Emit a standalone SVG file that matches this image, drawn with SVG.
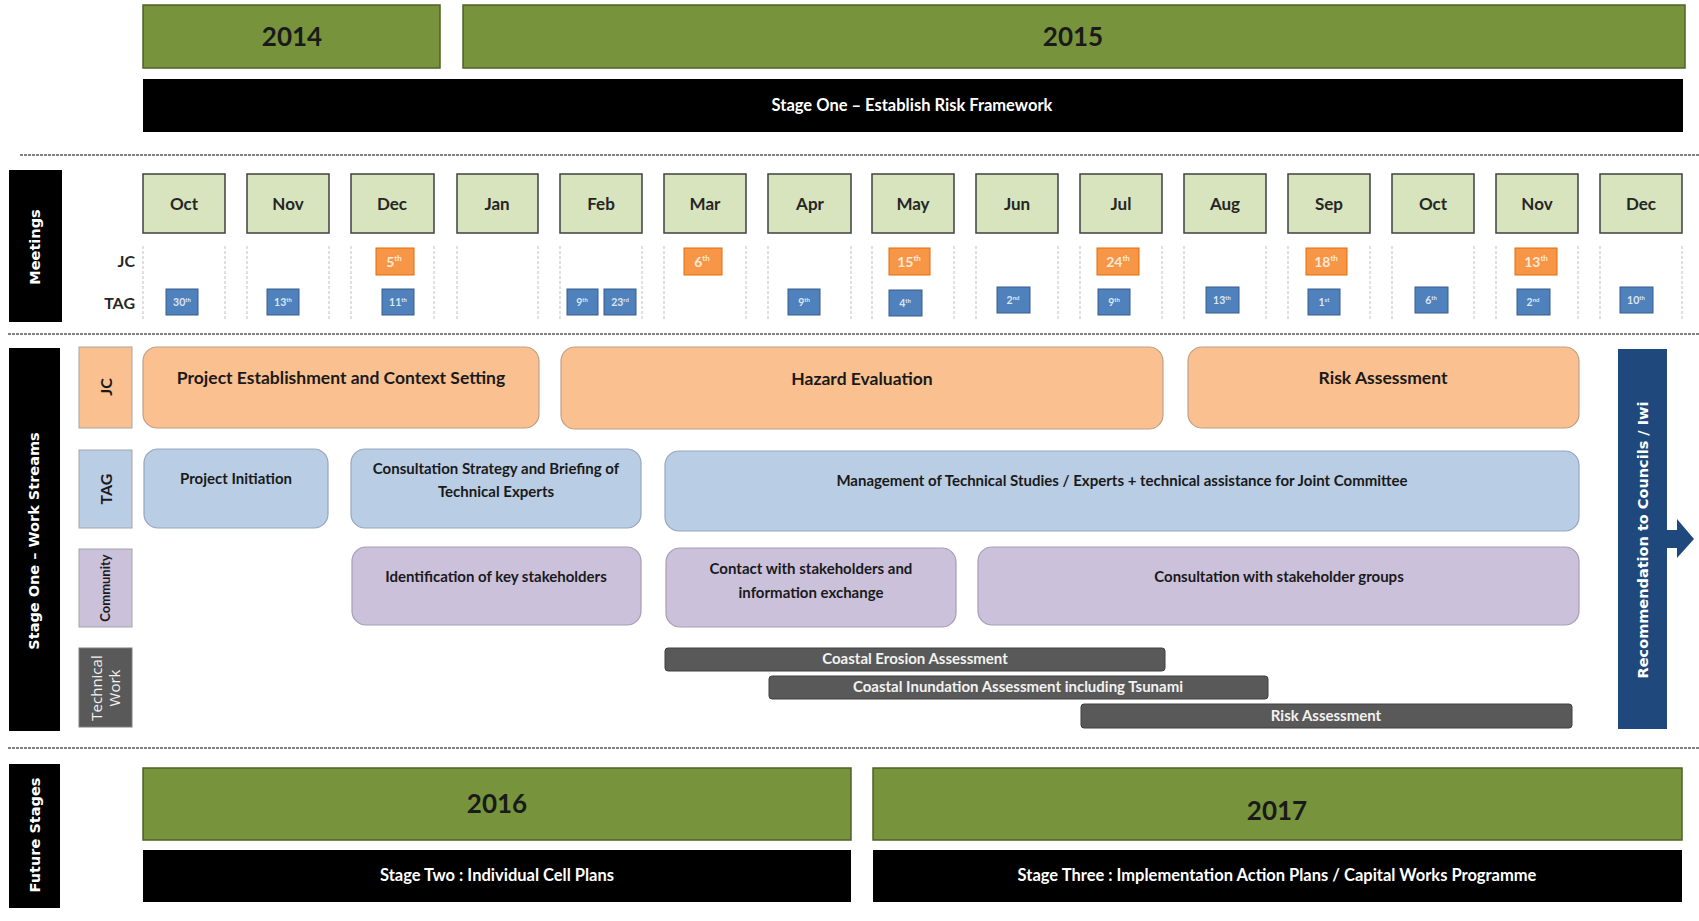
<svg xmlns="http://www.w3.org/2000/svg" width="1699" height="921" viewBox="0 0 1699 921">
<style>
  text { font-family: Lato, "Liberation Sans", sans-serif; font-weight: bold; }
  .year { fill: #77933C; stroke: #4F6228; stroke-width: 1.5; }
  .yeart { font-size: 26px; fill: #1a1a1a; text-anchor: middle; }
  .stage { fill: #000; }
  .staget { font-size: 16.5px; fill: #fff; text-anchor: middle; }
  .side { fill: #000; }
  .sidet { font-family: "DejaVu Sans", "Open Sans", sans-serif; font-size: 14.5px; fill: #fff; text-anchor: middle; dominant-baseline: central; }
  .month { fill: #D7E4BD; stroke: #404040; stroke-width: 1.5; }
  .montht { font-size: 17px; fill: #262626; text-anchor: middle; }
  .vdash { stroke: #BFBFBF; stroke-width: 1; stroke-dasharray: 3 2; }
  .hdash { stroke: #595959; stroke-width: 1.5; stroke-dasharray: 3 1; }
  .jcm { fill: #F79646; stroke: #E46C0A; stroke-width: 1; }
  .tagm { fill: #4F81BD; stroke: #385D8A; stroke-width: 1; }
  .mt { font-size: 14px; fill: #FDEADA; text-anchor: middle; }
  .tt { font-size: 10.5px; fill: #DCE6F2; text-anchor: middle; }
  .rowl { font-size: 16px; fill: #262626; text-anchor: end; }
  .lab-o { fill: #FAC090; stroke: #A6A6A6; stroke-width: 1; }
  .lab-b { fill: #B9CDE5; stroke: #A6A6A6; stroke-width: 1; }
  .lab-p { fill: #CCC1DA; stroke: #A6A6A6; stroke-width: 1; }
  .lab-g { fill: #595959; stroke: #7F7F7F; stroke-width: 1; }
  .labt { font-size: 16px; fill: #1a1a1a; text-anchor: middle; dominant-baseline: central; }
  .o { fill: #FAC090; stroke: #BFA088; stroke-width: 1.2; }
  .b { fill: #B9CDE5; stroke: #95A7BD; stroke-width: 1.2; }
  .p { fill: #CCC1DA; stroke: #A79DB5; stroke-width: 1.2; }
  .g { fill: #595959; stroke: #404040; stroke-width: 1; }
  .wt { fill: #1a1a1a; text-anchor: middle; }
  .gt { font-size: 15px; fill: #F2F2F2; text-anchor: middle; }
  .rec { fill: #1F497D; }
</style>

<!-- separators -->
<g id="separators">
  <line class="hdash" x1="20" y1="155" x2="1699" y2="155"/>
  <line class="hdash" x1="8" y1="334" x2="1699" y2="334"/>
  <line class="hdash" x1="8" y1="748" x2="1699" y2="748"/>
</g>

<!-- Top: years and stage one -->
<g id="year-2014"><rect class="year" x="143" y="5" width="297" height="63"/><text class="yeart" x="292" y="46">2014</text></g>
<g id="year-2015"><rect class="year" x="463" y="5" width="1222" height="63"/><text class="yeart" x="1073" y="46">2015</text></g>
<g id="stage-one"><rect class="stage" x="143" y="79" width="1540" height="53"/><text class="staget" x="912" y="111">Stage One – Establish Risk Framework</text></g>

<!-- Meetings -->
<g id="meetings-label"><rect class="side" x="9" y="170" width="53" height="152"/><text class="sidet" transform="translate(35,247) rotate(-90)">Meetings</text></g>

<g id="meeting-dashes">
  <line class="vdash" x1="143" y1="246" x2="143" y2="320"/><line class="vdash" x1="225" y1="246" x2="225" y2="320"/>
  <line class="vdash" x1="247" y1="246" x2="247" y2="320"/><line class="vdash" x1="329" y1="246" x2="329" y2="320"/>
  <line class="vdash" x1="351" y1="246" x2="351" y2="320"/><line class="vdash" x1="434" y1="246" x2="434" y2="320"/>
  <line class="vdash" x1="457" y1="246" x2="457" y2="320"/><line class="vdash" x1="538" y1="246" x2="538" y2="320"/>
  <line class="vdash" x1="560" y1="246" x2="560" y2="320"/><line class="vdash" x1="642" y1="246" x2="642" y2="320"/>
  <line class="vdash" x1="664" y1="246" x2="664" y2="320"/><line class="vdash" x1="746" y1="246" x2="746" y2="320"/>
  <line class="vdash" x1="768" y1="246" x2="768" y2="320"/><line class="vdash" x1="851" y1="246" x2="851" y2="320"/>
  <line class="vdash" x1="872" y1="246" x2="872" y2="320"/><line class="vdash" x1="954" y1="246" x2="954" y2="320"/>
  <line class="vdash" x1="976" y1="246" x2="976" y2="320"/><line class="vdash" x1="1058" y1="246" x2="1058" y2="320"/>
  <line class="vdash" x1="1080" y1="246" x2="1080" y2="320"/><line class="vdash" x1="1162" y1="246" x2="1162" y2="320"/>
  <line class="vdash" x1="1184" y1="246" x2="1184" y2="320"/><line class="vdash" x1="1266" y1="246" x2="1266" y2="320"/>
  <line class="vdash" x1="1288" y1="246" x2="1288" y2="320"/><line class="vdash" x1="1370" y1="246" x2="1370" y2="320"/>
  <line class="vdash" x1="1392" y1="246" x2="1392" y2="320"/><line class="vdash" x1="1474" y1="246" x2="1474" y2="320"/>
  <line class="vdash" x1="1496" y1="246" x2="1496" y2="320"/><line class="vdash" x1="1578" y1="246" x2="1578" y2="320"/>
  <line class="vdash" x1="1600" y1="246" x2="1600" y2="320"/><line class="vdash" x1="1682" y1="246" x2="1682" y2="320"/>
</g>

<g id="m-oct14"><rect class="month" x="143" y="174" width="82" height="59"/><text class="montht" x="184" y="210">Oct</text></g>
<g id="m-nov14"><rect class="month" x="247" y="174" width="82" height="59"/><text class="montht" x="288" y="210">Nov</text></g>
<g id="m-dec14"><rect class="month" x="351" y="174" width="83" height="59"/><text class="montht" x="392" y="210">Dec</text></g>
<g id="m-jan15"><rect class="month" x="457" y="174" width="81" height="59"/><text class="montht" x="497" y="210">Jan</text></g>
<g id="m-feb15"><rect class="month" x="560" y="174" width="82" height="59"/><text class="montht" x="601" y="210">Feb</text></g>
<g id="m-mar15"><rect class="month" x="664" y="174" width="82" height="59"/><text class="montht" x="705" y="210">Mar</text></g>
<g id="m-apr15"><rect class="month" x="768" y="174" width="83" height="59"/><text class="montht" x="810" y="210">Apr</text></g>
<g id="m-may15"><rect class="month" x="872" y="174" width="82" height="59"/><text class="montht" x="913" y="210">May</text></g>
<g id="m-jun15"><rect class="month" x="976" y="174" width="82" height="59"/><text class="montht" x="1017" y="210">Jun</text></g>
<g id="m-jul15"><rect class="month" x="1080" y="174" width="82" height="59"/><text class="montht" x="1121" y="210">Jul</text></g>
<g id="m-aug15"><rect class="month" x="1184" y="174" width="82" height="59"/><text class="montht" x="1225" y="210">Aug</text></g>
<g id="m-sep15"><rect class="month" x="1288" y="174" width="82" height="59"/><text class="montht" x="1329" y="210">Sep</text></g>
<g id="m-oct15"><rect class="month" x="1392" y="174" width="82" height="59"/><text class="montht" x="1433" y="210">Oct</text></g>
<g id="m-nov15"><rect class="month" x="1496" y="174" width="82" height="59"/><text class="montht" x="1537" y="210">Nov</text></g>
<g id="m-dec15"><rect class="month" x="1600" y="174" width="82" height="59"/><text class="montht" x="1641" y="210">Dec</text></g>

<g id="row-labels">
  <text class="rowl" x="135" y="267">JC</text>
  <text class="rowl" x="135" y="309">TAG</text>
</g>

<g id="jc-meetings">
  <g id="jc-dec"><rect class="jcm" x="376" y="248" width="38" height="27"/><text class="mt" x="394" y="267">5<tspan font-size="8" dy="-6">th</tspan></text></g>
  <g id="jc-mar"><rect class="jcm" x="684" y="248" width="38" height="27"/><text class="mt" x="702" y="267">6<tspan font-size="8" dy="-6">th</tspan></text></g>
  <g id="jc-may"><rect class="jcm" x="889" y="248" width="41" height="27"/><text class="mt" x="909" y="267">15<tspan font-size="8" dy="-6">th</tspan></text></g>
  <g id="jc-jul"><rect class="jcm" x="1097" y="248" width="42" height="27"/><text class="mt" x="1118" y="267">24<tspan font-size="8" dy="-6">th</tspan></text></g>
  <g id="jc-sep"><rect class="jcm" x="1306" y="248" width="41" height="27"/><text class="mt" x="1326" y="267">18<tspan font-size="8" dy="-6">th</tspan></text></g>
  <g id="jc-nov"><rect class="jcm" x="1515" y="248" width="42" height="27"/><text class="mt" x="1536" y="267">13<tspan font-size="8" dy="-6">th</tspan></text></g>
</g>

<g id="tag-meetings">
  <g id="tag-oct"><rect class="tagm" x="166" y="289" width="32" height="26"/><text class="tt" x="182" y="306">30<tspan font-size="6" dy="-4">th</tspan></text></g>
  <g id="tag-nov"><rect class="tagm" x="267" y="289" width="32" height="26"/><text class="tt" x="283" y="306">13<tspan font-size="6" dy="-4">th</tspan></text></g>
  <g id="tag-dec"><rect class="tagm" x="382" y="289" width="32" height="26"/><text class="tt" x="398" y="306">11<tspan font-size="6" dy="-4">th</tspan></text></g>
  <g id="tag-feb1"><rect class="tagm" x="567" y="289" width="31" height="26"/><text class="tt" x="582" y="306">9<tspan font-size="6" dy="-4">th</tspan></text></g>
  <g id="tag-feb2"><rect class="tagm" x="604" y="289" width="32" height="26"/><text class="tt" x="620" y="306">23<tspan font-size="6" dy="-4">rd</tspan></text></g>
  <g id="tag-apr"><rect class="tagm" x="788" y="289" width="32" height="26"/><text class="tt" x="804" y="306">9<tspan font-size="6" dy="-4">th</tspan></text></g>
  <g id="tag-may"><rect class="tagm" x="889" y="290" width="33" height="26"/><text class="tt" x="905" y="307">4<tspan font-size="6" dy="-4">th</tspan></text></g>
  <g id="tag-jun"><rect class="tagm" x="997" y="287" width="33" height="26"/><text class="tt" x="1013" y="304">2<tspan font-size="6" dy="-4">nd</tspan></text></g>
  <g id="tag-jul"><rect class="tagm" x="1098" y="289" width="32" height="26"/><text class="tt" x="1114" y="306">9<tspan font-size="6" dy="-4">th</tspan></text></g>
  <g id="tag-aug"><rect class="tagm" x="1206" y="287" width="33" height="26"/><text class="tt" x="1222" y="304">13<tspan font-size="6" dy="-4">th</tspan></text></g>
  <g id="tag-sep"><rect class="tagm" x="1308" y="289" width="32" height="26"/><text class="tt" x="1324" y="306">1<tspan font-size="6" dy="-4">st</tspan></text></g>
  <g id="tag-oct15"><rect class="tagm" x="1415" y="287" width="33" height="26"/><text class="tt" x="1431" y="304">6<tspan font-size="6" dy="-4">th</tspan></text></g>
  <g id="tag-nov15"><rect class="tagm" x="1517" y="289" width="33" height="26"/><text class="tt" x="1533" y="306">2<tspan font-size="6" dy="-4">nd</tspan></text></g>
  <g id="tag-dec15"><rect class="tagm" x="1620" y="287" width="33" height="26"/><text class="tt" x="1636" y="304">10<tspan font-size="6" dy="-4">th</tspan></text></g>
</g>

<!-- Stage One Work Streams -->
<g id="workstreams-label"><rect class="side" x="9" y="348" width="51" height="383"/><text class="sidet" transform="translate(34,541) rotate(-90)">Stage One – Work Streams</text></g>

<g id="lab-jc"><rect class="lab-o" x="79" y="347" width="53" height="81"/><text class="labt" transform="translate(105,387) rotate(-90)">JC</text></g>
<g id="lab-tag"><rect class="lab-b" x="79" y="450" width="53" height="78"/><text class="labt" transform="translate(105,489) rotate(-90)">TAG</text></g>
<g id="lab-community"><rect class="lab-p" x="79" y="549" width="53" height="78"/><text class="labt" style="font-size:13px" transform="translate(105,588) rotate(-90)">Community</text></g>
<g id="lab-technical"><rect class="lab-g" x="79" y="648" width="53" height="79"/><text class="labt" style="font-size:15px;fill:#F2F2F2;font-family:'Open Sans',sans-serif;font-weight:normal" transform="translate(105,688) rotate(-90)"><tspan x="0" dy="-9">Technical</tspan><tspan x="0" dy="18">Work</tspan></text></g>

<g id="ws-project-establishment"><rect class="o" x="143" y="347" width="396" height="81" rx="14"/><text class="wt" x="341" y="384" font-size="17.5">Project Establishment and Context Setting</text></g>
<g id="ws-hazard-evaluation"><rect class="o" x="561" y="347" width="602" height="82" rx="14"/><text class="wt" x="862" y="385" font-size="17.5">Hazard Evaluation</text></g>
<g id="ws-risk-assessment"><rect class="o" x="1188" y="347" width="391" height="81" rx="14"/><text class="wt" x="1383" y="384" font-size="17.5">Risk Assessment</text></g>

<g id="ws-project-initiation"><rect class="b" x="144" y="449" width="184" height="79" rx="14"/><text class="wt" x="236" y="484" font-size="15">Project Initiation</text></g>
<g id="ws-consultation-strategy"><rect class="b" x="351" y="449" width="290" height="79" rx="14"/><text class="wt" x="496" y="474" font-size="15">Consultation Strategy and Briefing of</text><text class="wt" x="496" y="497" font-size="15">Technical Experts</text></g>
<g id="ws-management"><rect class="b" x="665" y="451" width="914" height="80" rx="14"/><text class="wt" x="1122" y="486" font-size="15">Management of Technical Studies / Experts + technical assistance for Joint Committee</text></g>

<g id="ws-identification"><rect class="p" x="352" y="547" width="289" height="78" rx="14"/><text class="wt" x="496" y="582" font-size="15">Identification of key stakeholders</text></g>
<g id="ws-contact"><rect class="p" x="666" y="548" width="290" height="79" rx="14"/><text class="wt" x="811" y="574" font-size="15">Contact with stakeholders and</text><text class="wt" x="811" y="598" font-size="15">information exchange</text></g>
<g id="ws-consultation-groups"><rect class="p" x="978" y="547" width="601" height="78" rx="14"/><text class="wt" x="1279" y="582" font-size="15">Consultation with stakeholder groups</text></g>

<g id="tw-coastal-erosion"><rect class="g" x="665" y="648" width="500" height="23" rx="3"/><text class="gt" x="915" y="664">Coastal Erosion Assessment</text></g>
<g id="tw-coastal-inundation"><rect class="g" x="769" y="676" width="499" height="23" rx="3"/><text class="gt" x="1018" y="692">Coastal Inundation Assessment including Tsunami</text></g>
<g id="tw-risk-assessment"><rect class="g" x="1081" y="704" width="491" height="24" rx="3"/><text class="gt" x="1326" y="721">Risk Assessment</text></g>

<g id="recommendation">
  <rect class="rec" x="1618" y="349" width="49" height="380"/>
  <polygon class="rec" points="1666,530 1677,530 1677,519 1694,539 1677,558 1677,548 1666,548"/>
  <text class="sidet" transform="translate(1643,540) rotate(-90)">Recommendation to Councils / Iwi</text>
</g>

<!-- Future Stages -->
<g id="future-label"><rect class="side" x="9" y="764" width="51" height="144"/><text class="sidet" transform="translate(35,835) rotate(-90)">Future Stages</text></g>
<g id="year-2016"><rect class="year" x="143" y="768" width="708" height="72"/><text class="yeart" x="497" y="813">2016</text></g>
<g id="year-2017"><rect class="year" x="873" y="768" width="809" height="72"/><text class="yeart" x="1277" y="820">2017</text></g>
<g id="stage-two"><rect class="stage" x="143" y="850" width="708" height="52"/><text class="staget" x="497" y="881">Stage Two : Individual Cell Plans</text></g>
<g id="stage-three"><rect class="stage" x="873" y="850" width="809" height="52"/><text class="staget" x="1277" y="881">Stage Three : Implementation Action Plans / Capital Works Programme</text></g>
</svg>
